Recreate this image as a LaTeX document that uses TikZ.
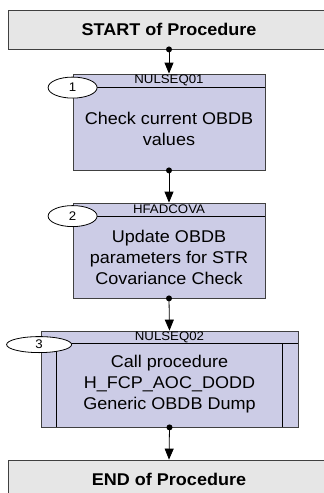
\documentclass[tikz,border=0pt]{standalone}
\usepackage{fontspec}
\setmainfont[FakeStretch=1.06]{Liberation Sans}
\usetikzlibrary{shapes.geometric,arrows.meta}
\definecolor{procfill}{RGB}{204,204,230}
\definecolor{termfill}{RGB}{230,230,230}
\definecolor{edgegray}{RGB}{64,64,64}
\tikzset{
  term/.style={draw=edgegray,fill=termfill,line width=0.8pt,minimum width=322pt,
    minimum height=39pt,font=\fontsize{17}{19}\selectfont\bfseries},
  proc/.style={draw=edgegray,fill=procfill,line width=0.8pt,minimum height=96pt,inner sep=0pt},
  tag/.style={font=\fontsize{12.5}{14}\selectfont,inner sep=0pt},
  stepnum/.style={ellipse,draw=black,fill=white,line width=0.8pt,inner sep=0pt,
    minimum width=49pt,minimum height=21pt,font=\fontsize{12.5}{14}\selectfont},
  body/.style={align=center,font=\fontsize{17}{21}\selectfont,inner sep=0pt},
  flow/.style={-{Triangle[width=9pt,length=11pt]},line width=0.8pt}
}
\begin{document}
\begin{tikzpicture}[x=1pt,y=-1pt]
    \useasboundingbox (0,0) rectangle (324,493);
    \node[term] (start) at (169,29.5) {START of Procedure};
    \node[proc,minimum width=192pt] (p1) at (169,122) {};
    \node[proc,minimum width=192pt,minimum height=95pt] (p2) at (169,250.5) {};
    \node[proc,minimum width=257pt] (p3) at (169.5,379) {};
    \node[term] (end) at (169,479.5) {END of Procedure};
    % headers
    \draw ([yshift=-14pt]p1.north west) -- ([yshift=-14pt]p1.north east);
    \draw ([yshift=-13.5pt]p2.north west) -- ([yshift=-13.5pt]p2.north east);
    \draw ([yshift=-13pt]p3.north west) -- ([yshift=-13pt]p3.north east);
    \draw ([xshift=16pt,yshift=-13pt]p3.north west) -- ([xshift=16pt]p3.south west);
    \draw ([xshift=-16pt,yshift=-13pt]p3.north east) -- ([xshift=-16pt]p3.south east);
    \node[tag] (h1) at ([yshift=-7pt]p1.north) {NULSEQ01};
    \node[tag] (h2) at ([yshift=-7pt]p2.north) {HFADCOVA};
    \node[tag] (h3) at ([yshift=-7pt]p3.north) {NULSEQ02};
    \node[stepnum] (s1) at ([yshift=-14pt]p1.north west) {1};
    \node[stepnum] (s2) at ([yshift=-13.5pt]p2.north west) {2};
    \node[stepnum,minimum width=65pt,minimum height=16pt] (s3) at ([xshift=-1.5pt,yshift=-14pt]p3.north west) {3};
    \node[body] (t1) at (169,128.5) {Check current OBDB\\values};
    \node[body] (t2) at (169,257) {Update OBDB\\parameters for STR\\Covariance Check};
    \node[body] (t3) at (169.5,384) {Call procedure\\H\_FCP\_AOC\_DODD\\Generic OBDB Dump};
    % connectors
    \draw[flow] (start.south) -- (p1.north);
    \draw[flow] (p1.south) -- (p2.north);
    \draw[flow] (p2.south) -- (p3.north);
    \draw[flow] (p3.south) -- (end.north);
    \fill (start.south) circle (3pt);
    \fill (p1.south) circle (3pt);
    \fill (p2.south) circle (3pt);
    \fill (p3.south) circle (3pt);
\end{tikzpicture}
\end{document}
